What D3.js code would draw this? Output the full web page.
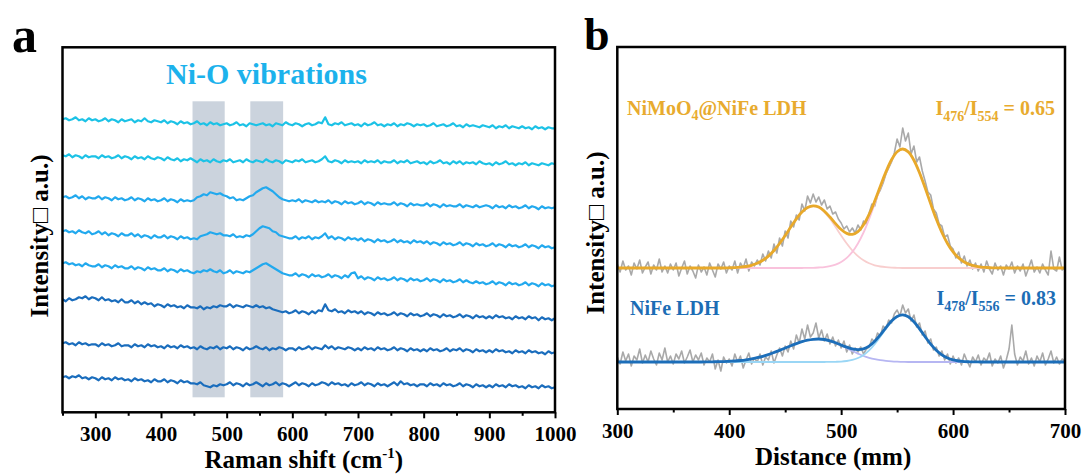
<!DOCTYPE html>
<html>
<head>
<meta charset="utf-8">
<script src="https://cdn.jsdelivr.net/npm/d3@7"></script>
<style>
  body { margin: 0; background: #fff; }
  svg { display: block; font-family: "Liberation Serif", "Times New Roman", serif; font-weight: bold; }
</style>
</head>
<body>
<div class="chart"></div>
<script>
var width = 1086;
var height = 475;

// ---- panel a : Raman spectra, 250..1000 cm-1 every 5 ----
var shiftA = d3.range(250, 1001, 5);

var trace1 = [293,294,292,293,295,292,293,291,294,292, 293,291,292,294,291,293,292,290,293,291,
  292,293,290,292,291,294,291,290,292,291, 290,292,289,291,290,288,291,289,290,288,
  289,291,288,289,287,290,288,289,287,288, 289,287,288,290,287,288,286,289,288,287,
  288,289,287,288,286,289,288,287,290,288, 287,289,288,286,288,289,287,288,290,289,
  295,288,287,289,288,290,287,288,289,287, 288,286,289,287,288,290,287,288,286,288,
  287,289,286,288,287,289,288,286,288,287, 288,286,287,289,286,287,288,286,287,289,
  286,287,285,288,286,287,286,285,287,286, 285,287,284,286,285,287,284,286,285,284,
  286,284,285,283,286,284,285,283,285,284, 284];
var trace2 = [257,256,258,255,257,256,254,257,255,256, 256,254,257,255,256,254,255,257,254,256,
  255,253,256,254,255,253,256,254,253,255, 254,252,255,253,252,254,251,253,252,254,
  252,250,253,251,252,250,253,251,250,252, 251,253,250,251,252,250,253,251,250,252,
  251,250,253,251,250,252,251,249,252,251, 250,252,251,253,250,251,252,250,251,253,
  256,251,250,252,251,249,252,250,251,250, 251,249,252,250,251,250,252,249,251,250,
  250,252,249,251,250,252,249,250,251,249, 250,248,251,249,250,252,249,250,248,251,
  249,251,248,250,249,250,248,251,249,248, 249,247,250,248,249,251,248,249,247,249,
  248,250,247,249,248,247,249,248,247,249, 248];
var trace3 = [215,216,214,215,217,214,216,213,215,214, 214,216,213,215,214,212,215,213,214,212,
  213,215,212,214,213,211,214,212,213,211, 212,214,211,213,212,210,213,211,212,211,
  212,215,216,218,217,220,219,218,219,217, 216,214,215,212,213,212,214,216,217,220,
  222,224,225,223,221,218,215,213,212,211, 212,211,213,210,212,211,210,212,210,211,
  210,212,209,211,210,208,211,209,210,208, 209,211,208,210,209,207,210,208,209,208,
  208,210,207,209,208,206,209,207,208,207, 207,209,206,208,207,205,208,206,207,206,
  206,208,205,207,206,205,207,205,206,207, 206,204,207,205,206,204,207,205,206,204,
  205,207,204,206,205,203,206,204,205,204, 205];
var trace4 = [181,182,180,181,179,182,180,179,181,178, 179,181,178,180,177,179,178,176,179,177,
  177,179,176,178,175,177,176,174,177,175, 175,177,174,176,175,173,176,174,175,173,
  174,173,176,177,178,180,179,178,179,177, 177,176,178,175,176,175,177,176,178,181,
  184,186,185,184,181,180,177,176,175,174, 174,176,173,175,174,176,173,175,174,176,
  179,174,176,173,175,174,172,175,173,174, 172,174,171,173,172,170,173,171,172,170,
  171,173,170,172,170,171,169,172,170,171, 169,171,168,170,169,167,170,168,169,167,
  168,170,167,169,168,166,169,167,168,166, 167,169,166,168,167,165,168,166,167,165,
  166,168,165,167,166,164,167,165,166,164, 165];
var trace5 = [149,150,148,149,147,148,146,149,147,146, 146,148,145,147,146,144,147,145,146,144,
  144,146,143,145,144,142,145,143,144,142, 142,144,141,143,142,140,143,141,142,140,
  139,141,140,142,141,143,141,140,142,139, 140,142,139,141,140,139,141,140,142,144,
  146,148,149,147,145,143,141,139,138,137, 137,139,136,138,137,135,138,136,137,135,
  136,138,135,137,136,134,137,135,139,140, 134,136,133,135,134,132,135,133,134,132,
  133,135,132,134,133,131,134,132,133,131, 132,134,131,133,132,130,133,131,132,130,
  131,133,130,132,130,129,131,129,130,128, 129,131,128,130,129,127,130,128,129,127,
  128,130,127,129,128,126,129,127,128,126, 127];
var trace6 = [113,111,114,112,113,115,114,116,113,115, 114,112,115,112,113,111,112,110,113,110,
  110,112,109,111,108,110,108,109,106,108, 107,105,108,106,107,105,106,104,107,105,
  105,104,106,103,105,104,106,105,107,106, 106,108,105,107,106,105,107,106,105,107,
  105,106,104,105,103,102,101,100,101,99, 100,102,99,101,100,98,101,99,102,101,
  108,102,101,103,100,101,99,102,100,101, 99,101,98,100,99,97,100,98,99,97,
  98,100,97,99,98,96,99,97,98,96, 97,99,96,98,97,95,98,96,97,95,
  96,98,95,97,96,94,97,95,96,94, 96,94,97,95,96,94,95,93,96,94,
  95,93,96,94,95,92,95,93,94,92, 94];
var trace7 = [69,70,68,69,67,70,68,69,67,68, 68,66,69,67,68,66,67,69,66,67,
  67,65,68,66,67,65,68,66,67,65, 66,64,67,65,66,64,67,65,66,64,
  65,63,66,64,63,65,64,66,63,65, 64,66,63,65,64,62,65,63,64,66,
  64,63,65,62,64,63,65,64,62,64, 64,62,65,63,64,66,63,65,64,63,
  67,64,66,63,65,64,63,65,64,62, 64,62,65,63,64,62,65,63,64,62,
  63,65,62,64,63,61,64,62,63,61, 63,61,64,62,63,61,62,64,61,63,
  62,64,61,63,62,60,63,61,62,60, 62,60,63,61,62,60,61,59,62,60,
  61,59,62,60,61,59,60,58,61,59, 60];
var trace8 = [35,36,34,36,35,37,34,35,33,35, 34,32,35,33,34,32,35,33,34,32,
  33,31,34,32,33,31,32,30,33,31, 31,33,30,32,31,29,32,30,31,29,
  29,28,30,27,26,25,27,26,28,27, 28,30,27,29,28,26,29,27,28,30,
  28,26,29,27,28,30,27,29,28,26, 28,30,27,29,28,26,29,27,28,30,
  29,27,30,28,29,27,28,26,29,27, 28,30,27,29,28,26,29,27,28,26,
  28,30,27,31,28,29,27,28,26,28, 28,26,29,27,28,26,29,27,28,26,
  27,29,26,28,27,25,28,26,27,25, 27,25,28,26,27,25,28,26,27,25,
  26,24,27,25,26,24,27,25,26,24, 25];

var tracesA = [trace1, trace2, trace3, trace4, trace5, trace6, trace7, trace8];
var traceColors = ["#1cc2e6", "#1cc2e6", "#22a9ee", "#22a9ee", "#22a9ee", "#1a6dbd", "#1a6dbd", "#1a6dbd"];
var bands = [[448, 497], [536, 586]];
var bandRange = [15, 311];
var ticksA = [300, 400, 500, 600, 700, 800, 900, 1000];
var minorA = [250, 350, 450, 550, 650, 750, 850, 950];

// ---- panel b : line profiles, 300..700 ----
var distRaw = d3.range(300, 700.1, 2.5);
var distFit = d3.range(300, 701, 5);

var rawTop = [145,137,148,139,143,134,146,140,149,136, 142,147,135,144,139,150,137,143,136,145,
  139,146,133,141,148,135,143,138,131,144, 137,142,134,146,139,132,145,140,147,136,
  143,139,148,136,146,141,150,138,147,143, 149,144,155,148,158,151,165,156,171,163,
  178,171,188,182,194,189,205,198,213,206, 215,207,212,204,209,200,203,195,197,190,
  186,180,183,177,181,176,184,179,188,185, 196,205,203,214,219,226,235,241,247,256,
  270,262,281,268,276,255,263,247,252,238, 228,217,214,200,196,185,183,172,174,163,
  160,151,157,146,153,143,149,140,146,138, 145,137,148,140,135,146,139,143,134,144,
  140,147,136,143,138,145,133,141,149,137, 142,136,145,139,134,158,140,138,152,139, 142];
var rawBottom = [52,45,57,48,55,43,53,49,60,46, 54,47,58,50,44,56,49,61,47,53,
  45,55,50,58,46,52,59,47,54,49, 56,44,51,47,55,40,49,38,52,46,
  50,43,55,47,53,41,49,56,45,51, 47,55,44,52,49,58,46,54,61,53,
  63,57,68,60,74,66,80,70,84,72, 76,86,71,79,68,75,65,72,63,69,
  61,68,57,64,55,61,57,62,55,60, 62,70,67,76,73,83,80,89,86,95,
  99,93,104,96,100,88,94,82,86,74, 78,66,70,59,62,53,58,49,55,45,
  53,46,51,44,55,48,42,52,47,54, 44,51,48,56,43,50,46,53,41,49,
  60,84,55,44,52,48,58,45,51,43, 53,47,56,44,50,58,46,52,45,50, 48];

var fitTop = [141,141,141,141,141,141,141,141,141,141,141,141,141,141,141,141,141,141,141,141,
  141.2,141.4,141.8,142.5,143.7,145.7,148.7,152.9,158.5,165.5,
  173.5,182,190.2,196.9,201.5,203.2,201.9,197.8,192,185.4,
  179.5,175.6,174.6,177.4,184.2,194.6,207.9,222.7,237.1,249.2,
  257.3,260,257.1,248.8,236.3,221.2,205.2,189.9,176.5,165.5,
  157.1,151.1,147,144.4,142.8,141.9,141.5,141.2,141.1,
  141,141,141,141,141,141,141,141,141,141,141,141];
var peakTop1 = [141,141,141,141,141,141,141,141,141,141,141,141,141,141,141,141,141,141,141,141,
  141.2,141.4,141.8,142.5,143.7,145.7,148.7,152.9,158.5,165.5,
  173.5,182,190.2,196.9,201.4,203,201.4,196.9,190.2,182,
  173.5,165.5,158.5,152.9,148.7,145.7,143.7,142.5,141.8,141.4,
  141.2,141,141,141,141,141,141,141,141,141,
  141,141,141,141,141,141,141,141,141,
  141,141,141,141,141,141,141,141,141,141,141,141];
var peakTop2 = [141,141,141,141,141,141,141,141,141,141,141,141,141,141,141,141,141,141,141,141,
  141,141,141,141,141,141,141,141,141,141,
  141,141,141,141,141.1,141.2,141.5,141.9,142.8,144.4,
  147,151.1,157.1,165.5,176.5,189.9,205.2,221.2,236.3,248.8,
  257.1,260,257.1,248.8,236.3,221.2,205.2,189.9,176.5,165.5,
  157.1,151.1,147,144.4,142.8,141.9,141.5,141.2,141.1,
  141,141,141,141,141,141,141,141,141,141,141,141];

var fitBottom = [47,47,47,47,47,47,47,47,47,47,47,47,47,47,47,47,
  47.1,47.2,47.3,47.4,47.7,48,48.5,49.2,50.1,51.3,52.7,54.5,56.5,58.6,
  61,63.3,65.4,67.3,68.8,69.7,70,69.5,68.1,66.2,
  63.9,61.8,60.1,59.4,60.1,62.9,67.7,74.1,81.3,87.9,
  92.5,94.1,92.2,87.3,80.2,72.3,64.9,58.7,54.1,51,
  49.1,48,47.4,47.2,47.1,
  47,47,47,47,47,47,47,47,47,47,47,47,47,47,47,47];
var peakBottom1 = [47,47,47,47,47,47,47,47,47,47,47,47,47,47,47,47,
  47.1,47.2,47.3,47.4,47.7,48,48.5,49.2,50.1,51.3,52.7,54.5,56.5,58.6,
  61,63.3,65.4,67.3,68.8,69.7,70,69.5,68,66,
  63.5,60.8,58,55.4,53,51.2,49.8,48.8,48.1,47.6,
  47.3,47.1,47,47,47,47,47,47,47,47,
  47,47,47,47,47,
  47,47,47,47,47,47,47,47,47,47,47,47,47,47,47,47];
var peakBottom2 = [47,47,47,47,47,47,47,47,47,47,47,47,47,47,47,47,
  47,47,47,47,47,47,47,47,47,47,47,47,47,47,
  47,47,47,47,47,47,47,47,47.1,47.2,
  47.4,48,49.1,51,54.1,58.7,64.9,72.3,80.2,87.3,
  92.2,94,92.2,87.3,80.2,72.3,64.9,58.7,54.1,51,
  49.1,48,47.4,47.2,47.1,
  47,47,47,47,47,47,47,47,47,47,47,47,47,47,47,47];

var ticksB = [300, 400, 500, 600, 700];
var minorB = [350, 450, 550, 650];

var svg = d3.select(".chart")
  .append("svg")
  .attr("width", width)
  .attr("height", height);

// ================= panel a =================
var xA = d3.scaleLinear().domain([250, 1000]).range([62.5, 555]);
var yA = d3.scaleLinear().domain([0, 365]).range([412.3, 47.3]);

var gA = svg.append("g");

gA.selectAll(".band")
  .data(bands)
  .enter()
  .append("rect")
  .attr("class", "band")
  .attr("x", d => xA(d[0]))
  .attr("width", d => xA(d[1]) - xA(d[0]))
  .attr("y", yA(bandRange[1]))
  .attr("height", yA(bandRange[0]) - yA(bandRange[1]))
  .attr("fill", "#cbd3dd");

var lineA = d3.line()
  .x((d, i) => xA(shiftA[i]))
  .y(d => yA(d));

gA.selectAll(".trace")
  .data(tracesA)
  .enter()
  .append("path")
  .attr("class", "trace")
  .attr("d", lineA)
  .attr("fill", "none")
  .attr("stroke", (d, i) => traceColors[i])
  .attr("stroke-width", 2.2)
  .attr("stroke-linejoin", "round");

gA.append("text")
  .attr("x", 166)
  .attr("y", 84)
  .attr("font-size", 30)
  .attr("fill", "#1cb2ec")
  .text("Ni-O vibrations");

// axes
var axA = gA.append("g").attr("transform", "translate(0,412.3)");
axA.call(d3.axisBottom(xA).tickValues(ticksA).tickSize(6).tickPadding(8).tickFormat(d3.format("d")));
var axAm = gA.append("g").attr("transform", "translate(0,412.3)");
axAm.call(d3.axisBottom(xA).tickValues(minorA).tickSize(3.5).tickFormat(""));

gA.append("rect")
  .attr("x", xA(250)).attr("y", yA(365))
  .attr("width", xA(1000) - xA(250)).attr("height", yA(0) - yA(365))
  .attr("fill", "none").attr("stroke", "#000").attr("stroke-width", 2.5);

var xTitleA = gA.append("text")
  .attr("x", (xA(250) + xA(1000)) / 2 - 5)
  .attr("y", 468)
  .attr("text-anchor", "middle")
  .attr("font-size", 25);
xTitleA.append("tspan").text("Raman shift (cm");
xTitleA.append("tspan").attr("font-size", 15).attr("dy", -10).text("-1");
xTitleA.append("tspan").attr("dy", 10).text(")");

gA.append("text")
  .attr("transform", "translate(48,236) rotate(-90)")
  .attr("text-anchor", "middle")
  .attr("font-size", 25)
  .text("Intensity\u25A1 a.u.)");

svg.append("text")
  .attr("x", 12).attr("y", 52)
  .attr("font-size", 50)
  .text("a");

// ================= panel b =================
var xB = d3.scaleLinear().domain([300, 700]).range([617.3, 1065]);
var yB = d3.scaleLinear().domain([0, 362]).range([409, 47]);

var gB = svg.append("g");

var lineRaw = d3.line().x((d, i) => xB(distRaw[i])).y(d => yB(d));
var lineFit = d3.line().x((d, i) => xB(distFit[i])).y(d => yB(d)).curve(d3.curveCatmullRom);

var rawSeries = [rawTop, rawBottom];
gB.selectAll(".raw")
  .data(rawSeries)
  .enter()
  .append("path")
  .attr("class", "raw")
  .attr("d", lineRaw)
  .attr("fill", "none")
  .attr("stroke", "#a9a9a9")
  .attr("stroke-width", 1.6)
  .attr("stroke-linejoin", "round");

var peakSeries = [peakTop1, peakTop2, peakBottom1, peakBottom2];
var peakColors = ["#f8cece", "#f9c2dc", "#b6b6f2", "#9ad6f5"];
gB.selectAll(".peak")
  .data(peakSeries)
  .enter()
  .append("path")
  .attr("class", "peak")
  .attr("d", lineFit)
  .attr("fill", "none")
  .attr("stroke", (d, i) => peakColors[i])
  .attr("stroke-width", 1.8);

var fitSeries = [fitTop, fitBottom];
var fitColors = ["#e8a92a", "#1c6eb9"];
gB.selectAll(".fit")
  .data(fitSeries)
  .enter()
  .append("path")
  .attr("class", "fit")
  .attr("d", lineFit)
  .attr("fill", "none")
  .attr("stroke", (d, i) => fitColors[i])
  .attr("stroke-width", 2.8);

var axB = gB.append("g").attr("transform", "translate(0,409)");
axB.call(d3.axisBottom(xB).tickValues(ticksB).tickSize(6).tickPadding(8).tickFormat(d3.format("d")));
var axBm = gB.append("g").attr("transform", "translate(0,409)");
axBm.call(d3.axisBottom(xB).tickValues(minorB).tickSize(3.5).tickFormat(""));

gB.append("rect")
  .attr("x", xB(300)).attr("y", yB(362))
  .attr("width", xB(700) - xB(300)).attr("height", yB(0) - yB(362))
  .attr("fill", "none").attr("stroke", "#000").attr("stroke-width", 2.5);

gB.append("text")
  .attr("x", (xB(300) + xB(700)) / 2 - 8)
  .attr("y", 465)
  .attr("text-anchor", "middle")
  .attr("font-size", 25)
  .text("Distance (mm)");

gB.append("text")
  .attr("transform", "translate(604,233) rotate(-90)")
  .attr("text-anchor", "middle")
  .attr("font-size", 25)
  .text("Intensity\u25A1 a.u.)");

svg.append("text")
  .attr("x", 584).attr("y", 50)
  .attr("font-size", 46)
  .text("b");

// annotations
var tTop = gB.append("text").attr("x", 627).attr("y", 115).attr("font-size", 20).attr("fill", "#e8ab2e");
tTop.append("tspan").text("NiMoO");
tTop.append("tspan").attr("font-size", 14).attr("dy", 5).text("4");
tTop.append("tspan").attr("dy", -5).text("@NiFe LDH");

var rTop = gB.append("text").attr("x", 1055).attr("y", 115).attr("text-anchor", "end").attr("font-size", 20).attr("fill", "#e8ab2e");
rTop.append("tspan").text("I");
rTop.append("tspan").attr("font-size", 14).attr("dy", 6).text("476");
rTop.append("tspan").attr("dy", -6).text("/I");
rTop.append("tspan").attr("font-size", 14).attr("dy", 6).text("554");
rTop.append("tspan").attr("dy", -6).text(" = 0.65");

gB.append("text").attr("x", 630).attr("y", 315).attr("font-size", 20).attr("fill", "#1c6db5").text("NiFe LDH");

var rBot = gB.append("text").attr("x", 1056).attr("y", 305).attr("text-anchor", "end").attr("font-size", 20).attr("fill", "#1c6db5");
rBot.append("tspan").text("I");
rBot.append("tspan").attr("font-size", 14).attr("dy", 6).text("478");
rBot.append("tspan").attr("dy", -6).text("/I");
rBot.append("tspan").attr("font-size", 14).attr("dy", 6).text("556");
rBot.append("tspan").attr("dy", -6).text(" = 0.83");

// axis styling
svg.selectAll(".domain").remove();
svg.selectAll(".tick line").attr("stroke", "#000").attr("stroke-width", 2);
svg.selectAll(".tick text")
  .attr("font-family", "Liberation Serif, Times New Roman, serif")
  .attr("font-weight", "bold")
  .attr("font-size", 21)
  .attr("fill", "#000");
</script>
</body>
</html>
